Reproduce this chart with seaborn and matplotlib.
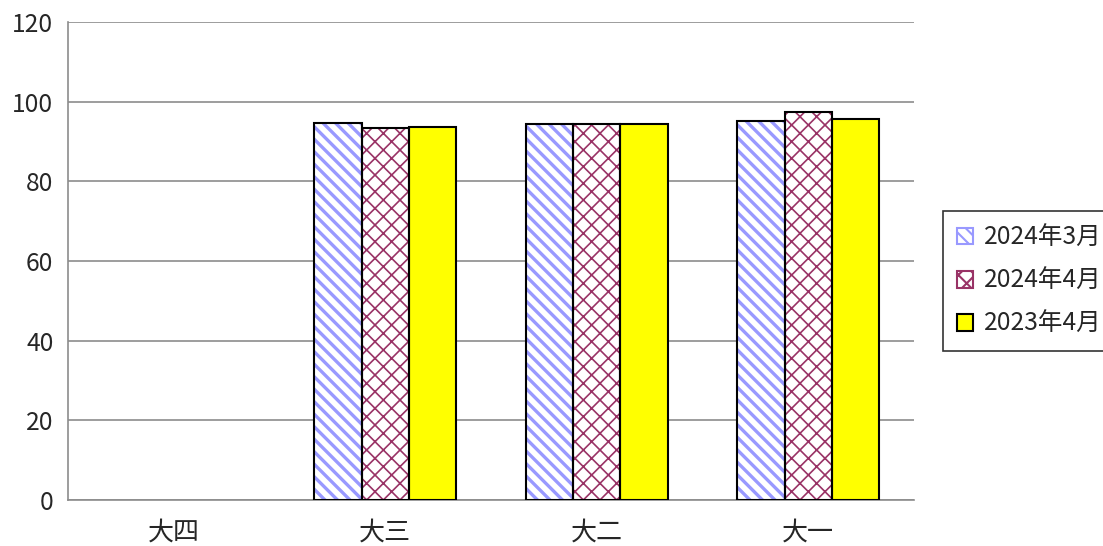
import numpy as np
import pandas as pd
import seaborn as sns
import matplotlib.pyplot as plt
from matplotlib.patches import Rectangle, Patch

sns.set_style("white")
plt.rcParams['font.family'] = ['Noto Sans CJK SC', 'DejaVu Sans']

# 数据
grades = ["大四", "大三", "大二", "大一"]
series = ["2024年3月", "2024年4月", "2023年4月"]
mar_2024 = [np.nan, 94.7, 94.3, 95.2]
apr_2024 = [np.nan, 93.5, 94.5, 97.5]
apr_2023 = [np.nan, 93.6, 94.5, 95.7]

face_colors = ["white", "white", "#ffff00"]
hatch_colors = ["#9999ff", "#993366", "black"]
hatches = ["\\\\\\\\", "xxx", ""]
hatch_widths = [1.6, 0.8, 1.0]

df = pd.DataFrame({
    "grade": grades * 3,
    "series": [s for s in series for _ in grades],
    "value": mar_2024 + apr_2024 + apr_2023,
}).dropna()

fig = plt.figure(figsize=(1103 / 150, 546 / 150), dpi=150)
ax = fig.add_axes([68 / 1103, 46 / 546, (914 - 68) / 1103, (500 - 22) / 546])

sns.barplot(data=df, x="grade", y="value", hue="series", order=grades,
            hue_order=series, palette=face_colors, width=0.67,
            legend=False, ax=ax)

for cont, fc, hc, h, hw in zip(ax.containers, face_colors, hatch_colors, hatches, hatch_widths):
    for p in cont:
        p.set_facecolor(fc)
        p.set_edgecolor(hc)
        p.set_linewidth(0)
        p.set_hatch(h)
        if hasattr(p, "set_hatch_linewidth"):
            p.set_hatch_linewidth(hw)
        # 黑色边框
        ax.add_patch(Rectangle((p.get_x(), p.get_y()), p.get_width(), p.get_height(),
                               fill=False, edgecolor="black", linewidth=1.0, zorder=3))

ax.set_ylim(0, 120)
ax.set_xlim(-0.5, len(grades) - 0.5)
ax.set_yticks(range(0, 121, 20))
ax.set_xlabel("")
ax.set_ylabel("")
ax.yaxis.grid(True, color="#8c8c8c", linewidth=0.8)
ax.set_axisbelow(True)
for side in ["top", "right"]:
    ax.spines[side].set_visible(False)
for side in ["left", "bottom"]:
    ax.spines[side].set_color("#8c8c8c")
    ax.spines[side].set_linewidth(0.8)

ax.tick_params(axis="y", length=4, width=0.8, color="#8c8c8c", labelsize=11.8, pad=3)
ax.tick_params(axis="x", which="major", length=0, labelsize=12.5, pad=9)
ax.set_xticks(np.arange(-0.5, len(grades), 1.0), minor=True)
ax.tick_params(axis="x", which="minor", length=4, width=0.8, color="#8c8c8c")

handles = []
for fc, hc, h in zip(face_colors, hatch_colors, hatches):
    handles.append(Patch(facecolor=fc, edgecolor=hc if h else "black", hatch=h, linewidth=1.0))
leg = fig.legend(handles, series, loc="center left", bbox_to_anchor=(943 / 1103, 1 - 281 / 546),
                 borderaxespad=0, fontsize=11.8, frameon=True, fancybox=False,
                 handlelength=0.65, handleheight=0.65, handletextpad=0.45,
                 labelspacing=0.7, borderpad=0.55)
leg.get_frame().set_edgecolor("black")
leg.get_frame().set_linewidth(0.8)

fig.savefig("out.png", dpi=150)
